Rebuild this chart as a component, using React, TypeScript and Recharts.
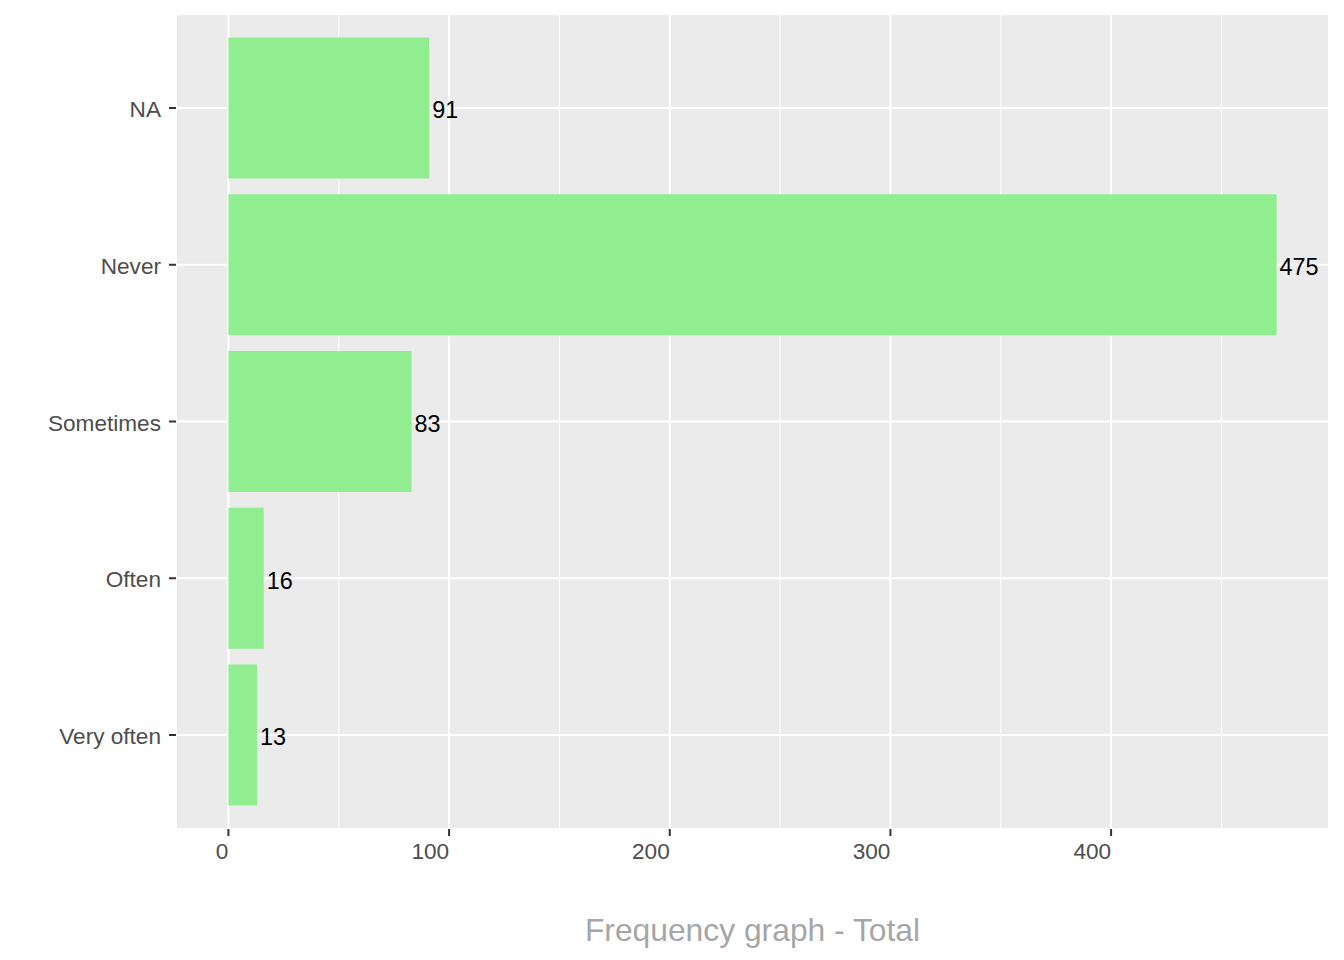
import {
  BarChart,
  Bar,
  XAxis,
  YAxis,
  CartesianGrid,
  LabelList,
  Label,
} from "recharts";

const categories = ["NA", "Never", "Sometimes", "Often", "Very often"];
const counts = [91, 475, 83, 16, 13];
const majorTicks = [0, 100, 200, 300, 400];
const minorTicks = [50, 150, 250, 350, 450];
const xDomain = [-23.75, 498.75];

const data = categories.map((name, i) => ({ name, value: counts[i] }));

const font = '"Liberation Sans", Arial, sans-serif';

export default function App() {
  return (
    <div style={{ position: "absolute", left: 0, top: 0, fontFamily: font }}>
      <BarChart
        width={1344}
        height={960}
        data={data}
        layout="vertical"
        margin={{ top: 14, right: 15, left: 0, bottom: 0 }}
        barCategoryGap="5%"
      >
        <CartesianGrid
          xAxisId="minor"
          horizontal={false}
          stroke="#FFFFFF"
          strokeWidth={1}
          fill="#EBEBEB"
        />
        <CartesianGrid stroke="#FFFFFF" strokeWidth={2} fill="none" />
        <XAxis
          xAxisId="minor"
          type="number"
          domain={xDomain}
          ticks={minorTicks}
          allowDataOverflow
          hide
        />
        <XAxis
          type="number"
          domain={xDomain}
          ticks={majorTicks}
          allowDataOverflow
          height={131}
          axisLine={false}
          tickSize={7}
          tickMargin={7}
          tickLine={{ stroke: "#333333", strokeWidth: 2 }}
          tick={{ fill: "#4D4D4D", fontSize: 22.6, fontFamily: font, textAnchor: "end" }}
        >
          <Label
            content={({ viewBox }: any) => (
              <text
                x={viewBox.x + viewBox.width / 2}
                y={viewBox.y + 101}
                textAnchor="middle"
                dominantBaseline="central"
                fill="#A6A6A6"
                fontSize={31.8}
                fontFamily={font}
              >
                Frequency graph - Total
              </text>
            )}
          />
        </XAxis>
        <YAxis
          type="category"
          dataKey="name"
          width={176}
          padding={{ top: 15.65, bottom: 15.65 }}
          axisLine={false}
          tickSize={7}
          tickMargin={8}
          tickLine={{ stroke: "#333333", strokeWidth: 2 }}
          tick={{ fill: "#4D4D4D", fontSize: 22.6, fontFamily: font, dy: 1 }}
        />
        <Bar dataKey="value" fill="#90EE90" isAnimationActive={false}>
          <LabelList
            dataKey="value"
            position="right"
            offset={3}
            fill="#000000"
            fontSize={23.4}
            fontFamily={font}
            dy={2}
          />
        </Bar>
      </BarChart>
    </div>
  );
}
